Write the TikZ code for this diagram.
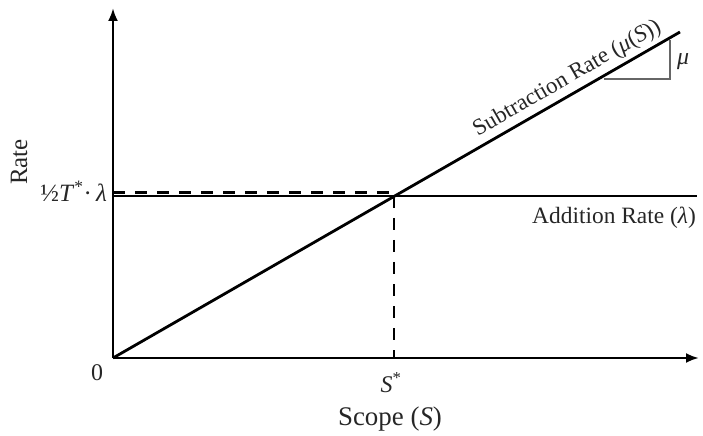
\documentclass[tikz,border=0pt]{standalone}
\usepackage{fontspec}
\setmainfont{Liberation Serif}
\usetikzlibrary{arrows.meta}
\begin{document}
\begin{tikzpicture}[x=1bp,y=-1bp,
  axis/.style={line width=2.8bp,-{Latex[length=13bp,width=10bp]}},
  mainline/.style={line width=2.8bp},
  dashline/.style={line width=2.8bp,dash pattern=on 12bp off 10bp},
  lab/.style={font=\fontsize{24}{28}\selectfont,inner sep=0pt,text=black!85},
  tri/.style={line width=1.8bp,draw=black!60}]
\useasboundingbox (0,0) rectangle (703,436);
\coordinate (O) at (113,358);
\coordinate (ytop) at (113,8);
\coordinate (xend) at (699,358);
\coordinate (hl) at (113,196);
\coordinate (hr) at (697,196);
\coordinate (X) at (394,196);
\coordinate (dl) at (113,192.5);
\coordinate (dr) at (394,192.5);
\coordinate (Sx) at (394,358);
\coordinate (dend) at (680,32);
\coordinate (t1) at (604,79);
\coordinate (t2) at (670,79);
\coordinate (t3) at (670,40);
% lines
\draw[mainline] (hl) -- (hr);
\draw[dashline] (dl) -- (dr);
\draw[dashline] (X) -- (Sx);
\draw[mainline] (O) -- (dend) node[pos=0.815,sloped,above=4bp,lab,font=\fontsize{23}{26}\selectfont] (sublab) {Subtraction Rate (\textit{μ}(\textit{S}))};
\draw[tri] (t1) -- (t2) -- (t3);
\draw[axis] (O) -- (ytop);
\draw[axis] (O) -- (xend);
% labels
\node[lab] (zero) at (97,373) {0};
\node[lab,anchor=east,font=\fontsize{25}{28}\selectfont] (half) at (107,191) {½\textit{T}\textsuperscript{*}·\,\textit{λ}};
\node[lab,rotate=90,font=\fontsize{25}{28}\selectfont] (rate) at (19,162) {Rate};
\node[lab] (sstar) at (391,383) {\textit{S}\textsuperscript{*}};
\node[lab,font=\fontsize{27}{30}\selectfont] (scope) at (390,419) {Scope (\textit{S})};
\node[lab,anchor=east,font=\fontsize{23.5}{26}\selectfont] (add) at (696,218) {Addition Rate (\textit{λ})};
\node[lab] (mu) at (683,62) {\textit{μ}};
\end{tikzpicture}
\end{document}
